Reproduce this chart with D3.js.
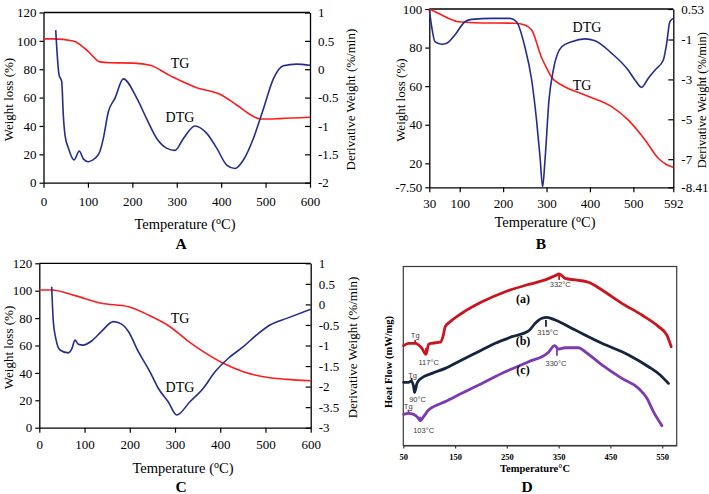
<!DOCTYPE html>
<html><head><meta charset="utf-8">
<script src="https://cdn.jsdelivr.net/npm/d3@7"></script>
<style>
body{margin:0;background:#fff}
svg{display:block}
text{font-family:"Liberation Serif","Times New Roman",serif}
text.ann{font-family:"Liberation Sans",Arial,sans-serif}
</style>
</head><body><svg id="c" width="709" height="494"></svg>
<script>
// ---------- DATA ----------
// Panel A
const A_TG_T  = [0, 22, 67, 101, 127, 150, 203, 240, 285, 345, 397, 435, 472, 490, 532, 600];
const A_TG    = [101.4, 101.4, 99.9, 92.4, 85.2, 84.6, 84.3, 82.8, 75.5, 67, 62.3, 54.8, 46.8, 44.9, 45.2, 46.1];
const A_DTG_T = [27.5, 35, 41, 44.6, 48.4, 56, 68.7, 80.6, 89.6, 101, 116, 127, 134.7, 146, 161, 179.7, 210, 232, 255, 277, 296, 315, 341, 367.5, 390, 412.6, 431, 450, 472.5, 495, 517.5, 540, 570, 600];
const A_DTG   = [0.69, -0.10, -0.22, -0.81, -1.16, -1.39, -1.60, -1.44, -1.58, -1.63, -1.57, -1.45, -1.22, -0.75, -0.51, -0.17, -0.51, -0.87, -1.22, -1.39, -1.43, -1.22, -1.0, -1.13, -1.39, -1.69, -1.75, -1.60, -1.22, -0.70, -0.17, 0.06, 0.09, 0.07];
const A_X_TICKS = [0, 100, 200, 300, 400, 500, 600];
const A_YL_TICKS = [0, 20, 40, 60, 80, 100, 120];
const A_YR_TICKS = [1, 0.5, 0, -0.5, -1, -1.5, -2];
const A_YR_LABELS = ["1", "0.5", "0", "-0.5", "-1", "-1.5", "-2"];

// Panel B
const B_TG_T  = [30, 50.7, 73.8, 96.8, 135, 227, 250, 265.8, 289, 300, 312, 335, 388.6, 450, 488, 527, 557.4, 575, 592];
const B_TG    = [100, 97.8, 95.2, 93.4, 92.9, 92.6, 91.7, 89.1, 74.6, 69.5, 64.5, 60.6, 55.4, 49.4, 42.5, 32.1, 22.6, 19.5, 17.9];
const B_DTG_T = [30, 35.5, 43, 58.5, 70, 89, 112, 127.6, 173.7, 216, 231, 250, 265.8, 277, 285, 291, 296.5, 305.7, 315.6, 335, 358, 388.6, 411.6, 450, 488, 503.7, 519, 534, 550, 569, 576.7, 584, 592];
const B_DTG   = [0.53, -0.36, -1.11, -1.24, -1.19, -0.77, -0.11, 0.01, 0.06, 0.06, -0.11, -1.36, -3.03, -5.04, -6.88, -8.38, -7.04, -4.03, -2.53, -1.36, -1.11, -0.97, -1.06, -1.69, -2.53, -3.03, -3.40, -2.95, -2.53, -2.03, -1.19, -0.11, 0.06];
const B_X_TICKS = [30, 100, 200, 300, 400, 500, 592];
const B_YL_TICKS = [7.56, 20, 40, 60, 80, 100];
const B_YL_LABELS = ["-7.50", "20", "40", "60", "80", "100"];
const B_YR_TICKS = [0.53, -1, -3, -5, -7, -8.41];
const B_YR_LABELS = ["0.53", "-1", "-3", "-5", "-7", "-8.41"];

// Panel C
const C_TG_T  = [0, 27.4, 79, 138, 197, 241, 289, 326, 362.6, 406.8, 451, 495, 547, 600];
const C_TG    = [100.5, 100.5, 96.4, 90.8, 88.3, 82.3, 73.7, 64, 55.5, 47, 40.9, 37.2, 35.3, 34.3];
const C_DTG_T = [27.4, 31, 36.3, 45.8, 64, 71.6, 79, 86.3, 97, 115.7, 138, 163.6, 182, 197, 219, 244.7, 263, 285, 303.8, 333, 362.6, 388.5, 418, 451, 480.6, 510, 547, 600];
const C_DTG   = [0.43, -0.42, -0.82, -1.11, -1.18, -1.09, -0.87, -0.97, -0.99, -0.89, -0.65, -0.42, -0.48, -0.66, -1.15, -1.64, -2.04, -2.37, -2.69, -2.37, -2.04, -1.64, -1.31, -1.03, -0.74, -0.50, -0.34, -0.12];
const C_YR_TICKS = [1, 0.5, 0, -0.5, -1, -1.5, -2, -2.5, -3];
const C_YR_LABELS = ["1", "0.5", "0", "-0.5", "-1", "-1.5", "-2", "-3.5", "-3"];

// Panel D (DSC, arbitrary heat-flow units)
const D_A_T = [50.6, 60, 73, 86, 93.8, 98.8, 105.4, 121.4, 126.6, 131, 140.7, 163, 202, 247, 292, 324, 343.4, 351, 362.7, 382, 407.7, 433.6, 472, 510.8, 543, 559, 567.4];
const D_A   = [55.8, 57.1, 57.1, 54.3, 50.9, 56.5, 57.1, 57.7, 60.8, 66.4, 69.2, 73.9, 80.3, 85.9, 90, 92.5, 94.9, 95.8, 93.4, 92.5, 91.2, 86.9, 79.4, 72.9, 66.4, 61.7, 55.2];
const D_B_T = [50.6, 60, 65.4, 70, 71.8, 76.4, 82.8, 105.4, 131, 163, 195, 227.6, 259.8, 292, 304.8, 317.8, 327.4, 343.4, 382, 433.6, 485, 523.6, 546, 562];
const D_B   = [35.3, 35.3, 36, 32.8, 29.7, 34.7, 37.2, 40.3, 43.1, 47.8, 52.4, 57.1, 60.8, 64, 68.3, 71.1, 71.6, 70.1, 64.5, 57.1, 50.6, 44, 39.4, 34.7];
const D_C_T = [50.6, 60, 70, 78.4, 82.8, 89.2, 98.8, 108.5, 131, 163, 202, 247, 292, 330.5, 342, 350, 362.7, 388.4, 401, 433.6, 472, 504, 520.5, 533, 549.4];
const D_C   = [17.4, 18, 17.4, 15.5, 13.9, 16.1, 19.8, 21.7, 24.5, 29.2, 34.7, 41.2, 46.8, 52.1, 55.8, 53.9, 54.6, 54.6, 52.4, 45, 37.5, 32, 26.4, 18.9, 11.1];
const D_X_TICKS = [50, 150, 250, 350, 450, 550];
const D_SERIES = ["(a)", "(b)", "(c)"];
// annotation marks: temperature, from value, to value, series, label, label T, label value
const D_MARK_T    = [73, 93.8, 351, 66, 71.8, 325.5, 60, 82.8, 346.7];
const D_MARK_V0   = [57.1, 54.5, 92.5, 36, 32.8, 70.1, 18, 16.1, 55.2];
const D_MARK_V1   = [59.0, 50.6, 96.2, 37.8, 29.2, 66.4, 20, 13.3, 50.2];
const D_MARK_S    = [0, 0, 0, 1, 1, 1, 2, 2, 2];
const D_LABEL     = ["Tg", "117°C", "332°C", "Tg", "90°C", "315°C", "Tg", "103°C", "330°C"];
const D_LABEL_T   = [73, 99, 353, 68, 77.5, 329, 59.5, 89.2, 344.8];
const D_LABEL_V   = [61.3, 46.3, 90.1, 39.2, 25.8, 63.2, 21.6, 8.7, 45.9];

// ---------- DRAW ----------
const svg = d3.select("#c");
svg.append("rect").attr("width", 709).attr("height", 494).attr("fill", "#fff");
const RED = "#ff1c1c", BLUE = "#262c8f";

function styleAxis(g, size, weight) {
  g.attr("font-size", size).attr("font-weight", weight || "normal");
  g.selectAll("text").attr("fill", "#000");
  g.selectAll("line").attr("stroke", "#000").attr("stroke-width", 1.2);
  g.select(".domain").attr("stroke", "#000").attr("stroke-width", 1.3);
}

function tgPanel(p) {
  const g = svg.append("g");
  const x = d3.scaleLinear().domain(p.xDomain).range([p.left, p.right]);
  const yL = d3.scaleLinear().domain(p.yLDomain).range([p.bottom, p.top]);
  const yR = d3.scaleLinear().domain(p.yRDomain).range([p.bottom, p.top]);

  g.append("line").attr("x1", p.left).attr("x2", p.right).attr("y1", p.top).attr("y2", p.top)
    .attr("stroke", "#000").attr("stroke-width", 1.3);

  const ax = g.append("g").attr("transform", `translate(0,${p.bottom})`)
    .call(d3.axisBottom(x).tickValues(p.xTicks).tickSizeInner(5).tickSizeOuter(0).tickPadding(p.xPad).tickFormat(d => d));
  styleAxis(ax, 13);
  const ayl = g.append("g").attr("transform", `translate(${p.left},0)`)
    .call(d3.axisLeft(yL).tickValues(p.yLTicks).tickSizeInner(4).tickSizeOuter(0).tickPadding(3)
      .tickFormat((d, i) => p.yLLabels[i]));
  styleAxis(ayl, 13);
  const ayr = g.append("g").attr("transform", `translate(${p.right},0)`)
    .call(d3.axisRight(yR).tickValues(p.yRTicks).tickSizeInner(-5).tickSizeOuter(0).tickPadding(8)
      .tickFormat((d, i) => p.yRLabels[i]));
  styleAxis(ayr, 13);

  const lineL = d3.line().x(d => x(d[0])).y(d => yL(d[1])).curve(d3.curveMonotoneX);
  const lineR = d3.line().x(d => x(d[0])).y(d => yR(d[1])).curve(d3.curveMonotoneX);
  g.append("path").datum(d3.zip(p.tgT, p.tg)).attr("d", lineL)
    .attr("fill", "none").attr("stroke", RED).attr("stroke-width", 1.6);
  g.append("path").datum(d3.zip(p.dtgT, p.dtg)).attr("d", lineR)
    .attr("fill", "none").attr("stroke", BLUE).attr("stroke-width", 1.6);

  const t = (txt, cx, cy, size, opts = {}) => {
    const el = g.append("text").attr("text-anchor", "middle").attr("font-size", size).attr("dy", "0.35em").text(txt);
    if (opts.rot) el.attr("transform", `translate(${cx},${cy}) rotate(-90)`);
    else el.attr("x", cx).attr("y", cy);
    if (opts.bold) el.attr("font-weight", "bold");
    return el;
  };
  t("TG", p.tgLab[0], p.tgLab[1], 14);
  t("DTG", p.dtgLab[0], p.dtgLab[1], 14);
  t("Weight loss (%)", p.yLTitleX, (p.top + p.bottom) / 2 + 2, 13, { rot: true });
  t("Derivative Weight (%/min)", p.yRTitleX, (p.top + p.bottom) / 2 + 2, p.yRTitleSize || 13, { rot: true });
  const xt = g.append("text").attr("text-anchor", "middle").attr("font-size", 14.5)
    .attr("x", p.xTitle[0]).attr("y", p.xTitle[1] + 5);
  xt.append("tspan").text("Temperature (");
  xt.append("tspan").attr("font-size", 10).attr("dy", -5).text("o");
  xt.append("tspan").attr("dy", 5).text("C)");
  t(p.letter, p.letterPos[0], p.letterPos[1], 15.5, { bold: true });
}

tgPanel({
  left: 43.5, right: 310, top: 12.5, bottom: 182.7,
  xDomain: [0, 600], yLDomain: [0, 120], yRDomain: [-2, 1],
  xTicks: A_X_TICKS, xPad: 9.5, yLTicks: A_YL_TICKS, yLLabels: A_YL_TICKS.map(String),
  yRTicks: A_YR_TICKS, yRLabels: A_YR_LABELS,
  tgT: A_TG_T, tg: A_TG, dtgT: A_DTG_T, dtg: A_DTG,
  tgLab: [180, 63], dtgLab: [180, 117.5],
  yLTitleX: 8.5, yRTitleX: 350, xTitle: [185, 224], letter: "A", letterPos: [181, 244]
});
tgPanel({
  left: 429.3, right: 673.3, top: 9, bottom: 187.3,
  xDomain: [30, 592], yLDomain: [7.56, 100], yRDomain: [-8.41, 0.53],
  xTicks: B_X_TICKS, xPad: 6, yLTicks: B_YL_TICKS, yLLabels: B_YL_LABELS,
  yRTicks: B_YR_TICKS, yRLabels: B_YR_LABELS,
  tgT: B_TG_T, tg: B_TG, dtgT: B_DTG_T, dtg: B_DTG,
  tgLab: [582, 85], dtgLab: [587, 27.5],
  yLTitleX: 400, yRTitleX: 702, yRTitleSize: 12.5, xTitle: [545, 222], letter: "B", letterPos: [541, 244]
});
tgPanel({
  left: 39.3, right: 310.7, top: 263.3, bottom: 427.7,
  xDomain: [0, 600], yLDomain: [0, 120], yRDomain: [-3, 1],
  xTicks: A_X_TICKS, xPad: 7, yLTicks: A_YL_TICKS, yLLabels: A_YL_TICKS.map(String),
  yRTicks: C_YR_TICKS, yRLabels: C_YR_LABELS,
  tgT: C_TG_T, tg: C_TG, dtgT: C_DTG_T, dtg: C_DTG,
  tgLab: [180, 318.5], dtgLab: [180, 387],
  yLTitleX: 8.5, yRTitleX: 352, xTitle: [183, 468], letter: "C", letterPos: [181, 486.5]
});

// Panel D
(function () {
  const L = 403.3, R = 676.7, T = 266.5, B = 445.5;
  const g = svg.append("g");
  const x = d3.scaleLinear().domain([50, 578]).range([L, R]);
  const y = d3.scaleLinear().domain([0, 100]).range([B, T]);
  g.append("rect").attr("x", L).attr("y", T).attr("width", R - L).attr("height", B - T)
    .attr("fill", "none").attr("stroke", "#3a3a3a").attr("stroke-width", 1.2);
  const ax = g.append("g").attr("transform", `translate(0,${B})`)
    .call(d3.axisBottom(x).tickValues(D_X_TICKS).tickSizeInner(3).tickSizeOuter(0).tickPadding(5));
  styleAxis(ax, 8.5, "bold");
  ax.select(".domain").attr("stroke", "#3a3a3a").attr("stroke-width", 1.2);
  ax.selectAll("line").attr("stroke", "#3a3a3a");

  const colors = ["#c8151e", "#15243f", "#7c3bb3"];
  const data = [d3.zip(D_A_T, D_A), d3.zip(D_B_T, D_B), d3.zip(D_C_T, D_C)];
  const line = d3.line().x(d => x(d[0])).y(d => y(d[1])).curve(d3.curveMonotoneX);
  data.forEach((d, i) => {
    g.append("path").datum(d).attr("d", line).attr("fill", "none")
      .attr("stroke", colors[i]).attr("stroke-width", 2.8).attr("stroke-linejoin", "round").attr("stroke-linecap", "round");
  });
  D_MARK_T.forEach((t, i) => {
    g.append("line").attr("x1", x(t)).attr("x2", x(t)).attr("y1", y(D_MARK_V0[i])).attr("y2", y(D_MARK_V1[i]))
      .attr("stroke", colors[D_MARK_S[i]]).attr("stroke-width", 1.8);
    g.append("text").attr("class", "ann").attr("x", x(D_LABEL_T[i])).attr("y", y(D_LABEL_V[i])).attr("dy", "0.35em")
      .attr("text-anchor", "middle").attr("font-size", 7.5).attr("fill", "#3c3c3c").text(D_LABEL[i]);
  });
  const serLabY = [298.5, 341, 369.5];
  D_SERIES.forEach((s, i) => {
    g.append("text").attr("x", 523).attr("y", serLabY[i]).attr("dy", "0.35em").attr("text-anchor", "middle")
      .attr("font-size", 12).attr("font-weight", "bold").text(s);
  });
  g.append("text").attr("transform", "translate(388.5,362) rotate(-90)").attr("text-anchor", "middle")
    .attr("dy", "0.35em").attr("font-size", 10.5).attr("font-weight", "bold").text("Heat Flow (mW/mg)");
  g.append("text").attr("x", 535).attr("y", 468.5).attr("dy", "0.35em").attr("text-anchor", "middle")
    .attr("font-size", 10.5).attr("font-weight", "bold").text("Temperature°C");
  g.append("text").attr("x", 527).attr("y", 486.5).attr("dy", "0.35em").attr("text-anchor", "middle")
    .attr("font-size", 15.5).attr("font-weight", "bold").text("D");
})();
</script>
</body></html>
